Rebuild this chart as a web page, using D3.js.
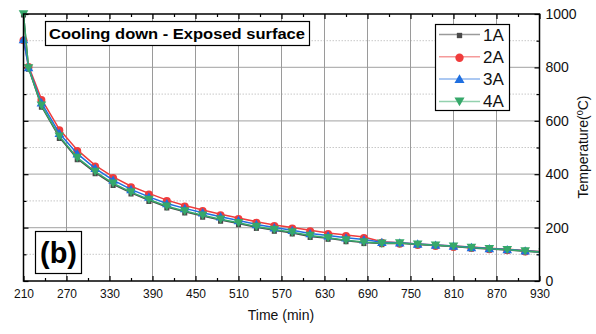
<!DOCTYPE html>
<html>
<head>
<meta charset="utf-8">
<script src="https://cdn.jsdelivr.net/npm/d3@7"></script>
<style>
  body { margin: 0; background: #fff; }
  svg { display: block; font-family: "Liberation Sans", Arial, sans-serif; }
  .grid-major line { stroke: #b4b4b4; stroke-width: 1.3; }
  .grid-x line { stroke: #9a9a9a; stroke-width: 1; }
  .grid-minor line { stroke: #c8c8c8; stroke-width: 1; stroke-dasharray: 1.5 1.5; }
  .axis path { display: none; }
  .axis line { stroke: #000; stroke-width: 1.2; }
</style>
</head>
<body>
<div id="chart"></div>
<script>
// time (min) of each reading
const times = [210, 217, 235, 260, 285, 310, 335, 360, 385, 410, 435, 460, 485, 510,
  535, 560, 585, 610, 635, 660, 685, 710, 735, 760, 785, 810, 835, 860, 885, 910, 935];

const s1A = [1000, 797, 655, 538, 458, 406, 362, 330, 302, 277, 259, 243, 228, 215,
  201, 190, 180, 167, 160, 151, 144, 140, 141, 137, 133, 129, 124, 120, 116, 111, 107];
const s2A = [905, 805, 682, 568, 491, 433, 390, 355, 328, 303, 283, 266, 250, 236,
  222, 210, 200, 190, 180, 172, 165, 147, 143, 139, 135, 131, 127, 123, 119, 114, 110];
const s3A = [905, 800, 668, 553, 477, 422, 378, 343, 315, 290, 272, 256, 241, 227,
  212, 200, 190, 178, 170, 162, 155, 145, 143, 139, 135, 131, 126, 122, 118, 113, 109];
const s4A = [1000, 798, 658, 542, 462, 410, 366, 333, 305, 280, 262, 246, 231, 218,
  204, 193, 183, 170, 162, 153, 146, 141, 142, 138, 134, 130, 125, 121, 117, 112, 108];

const seriesNames = ["1A", "2A", "3A", "4A"];
const seriesValues = [s1A, s2A, s3A, s4A];
const seriesColors = ["#4a4a4a", "#f03c3c", "#1f6fe0", "#36a86a"];
const legendLineColors = ["#9a9a9a", "#f59a9a", "#8fb6ee", "#93d1ae"];
const seriesSymbols = [d3.symbolSquare, d3.symbolCircle, d3.symbolTriangle, d3.symbolTriangle];
const symbolRotate = [0, 0, 0, 180];
const symbolSizes = [26, 50, 40, 40];

const xTicks = [210, 270, 330, 390, 450, 510, 570, 630, 690, 750, 810, 870, 930];
const yTicks = [0, 200, 400, 600, 800, 1000];

const W = 596, H = 334;
const pLeft = 23.5, pRight = 539.5, pTop = 14, pBottom = 281;

const x = d3.scaleLinear().domain([210, 930]).range([pLeft, pRight]);
const y = d3.scaleLinear().domain([0, 1000]).range([pBottom, pTop]);

const svg = d3.select("#chart").append("svg").attr("width", W).attr("height", H);

svg.append("clipPath").attr("id", "clip")
  .append("rect").attr("x", pLeft - 8).attr("y", 0).attr("width", pRight - pLeft + 8).attr("height", H);

// grid
svg.append("g").attr("class", "grid-minor")
  .selectAll("line").data(d3.range(100, 1000, 200)).join("line")
  .attr("x1", pLeft).attr("x2", pRight).attr("y1", d => y(d)).attr("y2", d => y(d));
svg.append("g").attr("class", "grid-major")
  .selectAll("line").data(yTicks.slice(1, -1)).join("line")
  .attr("x1", pLeft).attr("x2", pRight).attr("y1", d => y(d)).attr("y2", d => y(d));
svg.append("g").attr("class", "grid-x")
  .selectAll("line").data(xTicks.slice(1, -1)).join("line")
  .attr("y1", pTop).attr("y2", pBottom).attr("x1", d => x(d)).attr("x2", d => x(d));

// axes (ticks inward)
const xMinor = d3.range(240, 930, 60);
const yMinor = d3.range(100, 1000, 200);

svg.append("g").attr("class", "axis").attr("transform", `translate(0,${pBottom})`)
  .call(d3.axisBottom(x).tickValues(xTicks).tickSize(-5).tickPadding(8).tickFormat(d3.format("d")))
  .call(g => g.selectAll("text").attr("font-size", 12).attr("fill", "#111"));
svg.append("g").attr("class", "axis").attr("transform", `translate(0,${pBottom})`)
  .call(d3.axisBottom(x).tickValues(xMinor).tickSize(-3).tickFormat(""));
svg.append("g").attr("class", "axis").attr("transform", `translate(0,${pTop})`)
  .call(d3.axisTop(x).tickValues(xTicks).tickSize(-5).tickFormat(""));
svg.append("g").attr("class", "axis").attr("transform", `translate(0,${pTop})`)
  .call(d3.axisTop(x).tickValues(xMinor).tickSize(-3).tickFormat(""));

svg.append("g").attr("class", "axis").attr("transform", `translate(${pRight},0)`)
  .call(d3.axisRight(y).tickValues(yTicks).tickSize(-5).tickPadding(6).tickFormat(d3.format("d")))
  .call(g => g.selectAll("text").attr("font-size", 14).attr("fill", "#111"));
svg.append("g").attr("class", "axis").attr("transform", `translate(${pRight},0)`)
  .call(d3.axisRight(y).tickValues(yMinor).tickSize(-3).tickFormat(""));
svg.append("g").attr("class", "axis").attr("transform", `translate(${pLeft},0)`)
  .call(d3.axisLeft(y).tickValues(yTicks).tickSize(-5).tickFormat(""));
svg.append("g").attr("class", "axis").attr("transform", `translate(${pLeft},0)`)
  .call(d3.axisLeft(y).tickValues(yMinor).tickSize(-3).tickFormat(""));

// series
const line = d3.line().x(d => x(d[0])).y(d => y(d[1]));
const plot = svg.append("g").attr("clip-path", "url(#clip)");

seriesValues.forEach((vals, i) => {
  const pts = times.map((t, j) => [t, vals[j]]);
  const g = plot.append("g");
  g.append("path").datum(pts)
    .attr("d", line).attr("fill", "none")
    .attr("stroke", seriesColors[i]).attr("stroke-width", 1.5);
  g.selectAll("path.m").data(pts).join("path").attr("class", "m")
    .attr("d", d3.symbol().type(seriesSymbols[i]).size(symbolSizes[i]))
    .attr("transform", d => `translate(${x(d[0])},${y(d[1]) + (symbolRotate[i] ? -1 : 1)}) rotate(${symbolRotate[i]})`)
    .attr("fill", seriesColors[i]);
});

// frame
svg.append("rect").attr("x", pLeft).attr("y", pTop).attr("width", pRight - pLeft).attr("height", pBottom - pTop)
  .attr("fill", "none").attr("stroke", "#000").attr("stroke-width", 1.5);

// title box
svg.append("rect").attr("x", 45.5).attr("y", 21.5).attr("width", 264).attr("height", 24)
  .attr("fill", "#fff").attr("stroke", "#000").attr("stroke-width", 1.2);
svg.append("text").attr("x", 49).attr("y", 39).attr("font-size", 15).attr("font-weight", "bold")
  .attr("textLength", 256).attr("lengthAdjust", "spacingAndGlyphs")
  .text("Cooling down - Exposed surface");

// (b) box
svg.append("rect").attr("x", 35.5).attr("y", 231.5).attr("width", 46).attr("height", 42)
  .attr("fill", "#fff").attr("stroke", "#000").attr("stroke-width", 1.2);
svg.append("text").attr("x", 58.5).attr("y", 263).attr("text-anchor", "middle")
  .attr("font-size", 29).attr("font-weight", "bold").text("(b)");

// legend
const lg = svg.append("g");
lg.append("rect").attr("x", 435.5).attr("y", 24.5).attr("width", 74).attr("height", 86)
  .attr("fill", "#fff").attr("stroke", "#000").attr("stroke-width", 1.2);
seriesNames.forEach((name, i) => {
  const yy = 34.5 + i * 22.3;
  lg.append("line").attr("x1", 439).attr("x2", 480).attr("y1", yy).attr("y2", yy)
    .attr("stroke", legendLineColors[i]).attr("stroke-width", 1.5);
  lg.append("path").attr("d", d3.symbol().type(seriesSymbols[i]).size(symbolSizes[i] * 1.1)())
    .attr("transform", `translate(459.5,${yy + (symbolRotate[i] ? -1 : 1)}) rotate(${symbolRotate[i]})`)
    .attr("fill", seriesColors[i]);
  lg.append("text").attr("x", 483).attr("y", yy + 6).attr("font-size", 17).attr("fill", "#111").text(name);
});

// axis titles
svg.append("text").attr("x", 281).attr("y", 320).attr("text-anchor", "middle")
  .attr("font-size", 14).attr("fill", "#111").text("Time (min)");
const yt = svg.append("text").attr("transform", "translate(588,147) rotate(-90)")
  .attr("text-anchor", "middle").attr("font-size", 14).attr("fill", "#111");
yt.append("tspan").text("Temperature(");
yt.append("tspan").attr("font-size", 9).attr("dy", -5).text("0");
yt.append("tspan").attr("dy", 5).text("C)");
</script>
</body>
</html>
